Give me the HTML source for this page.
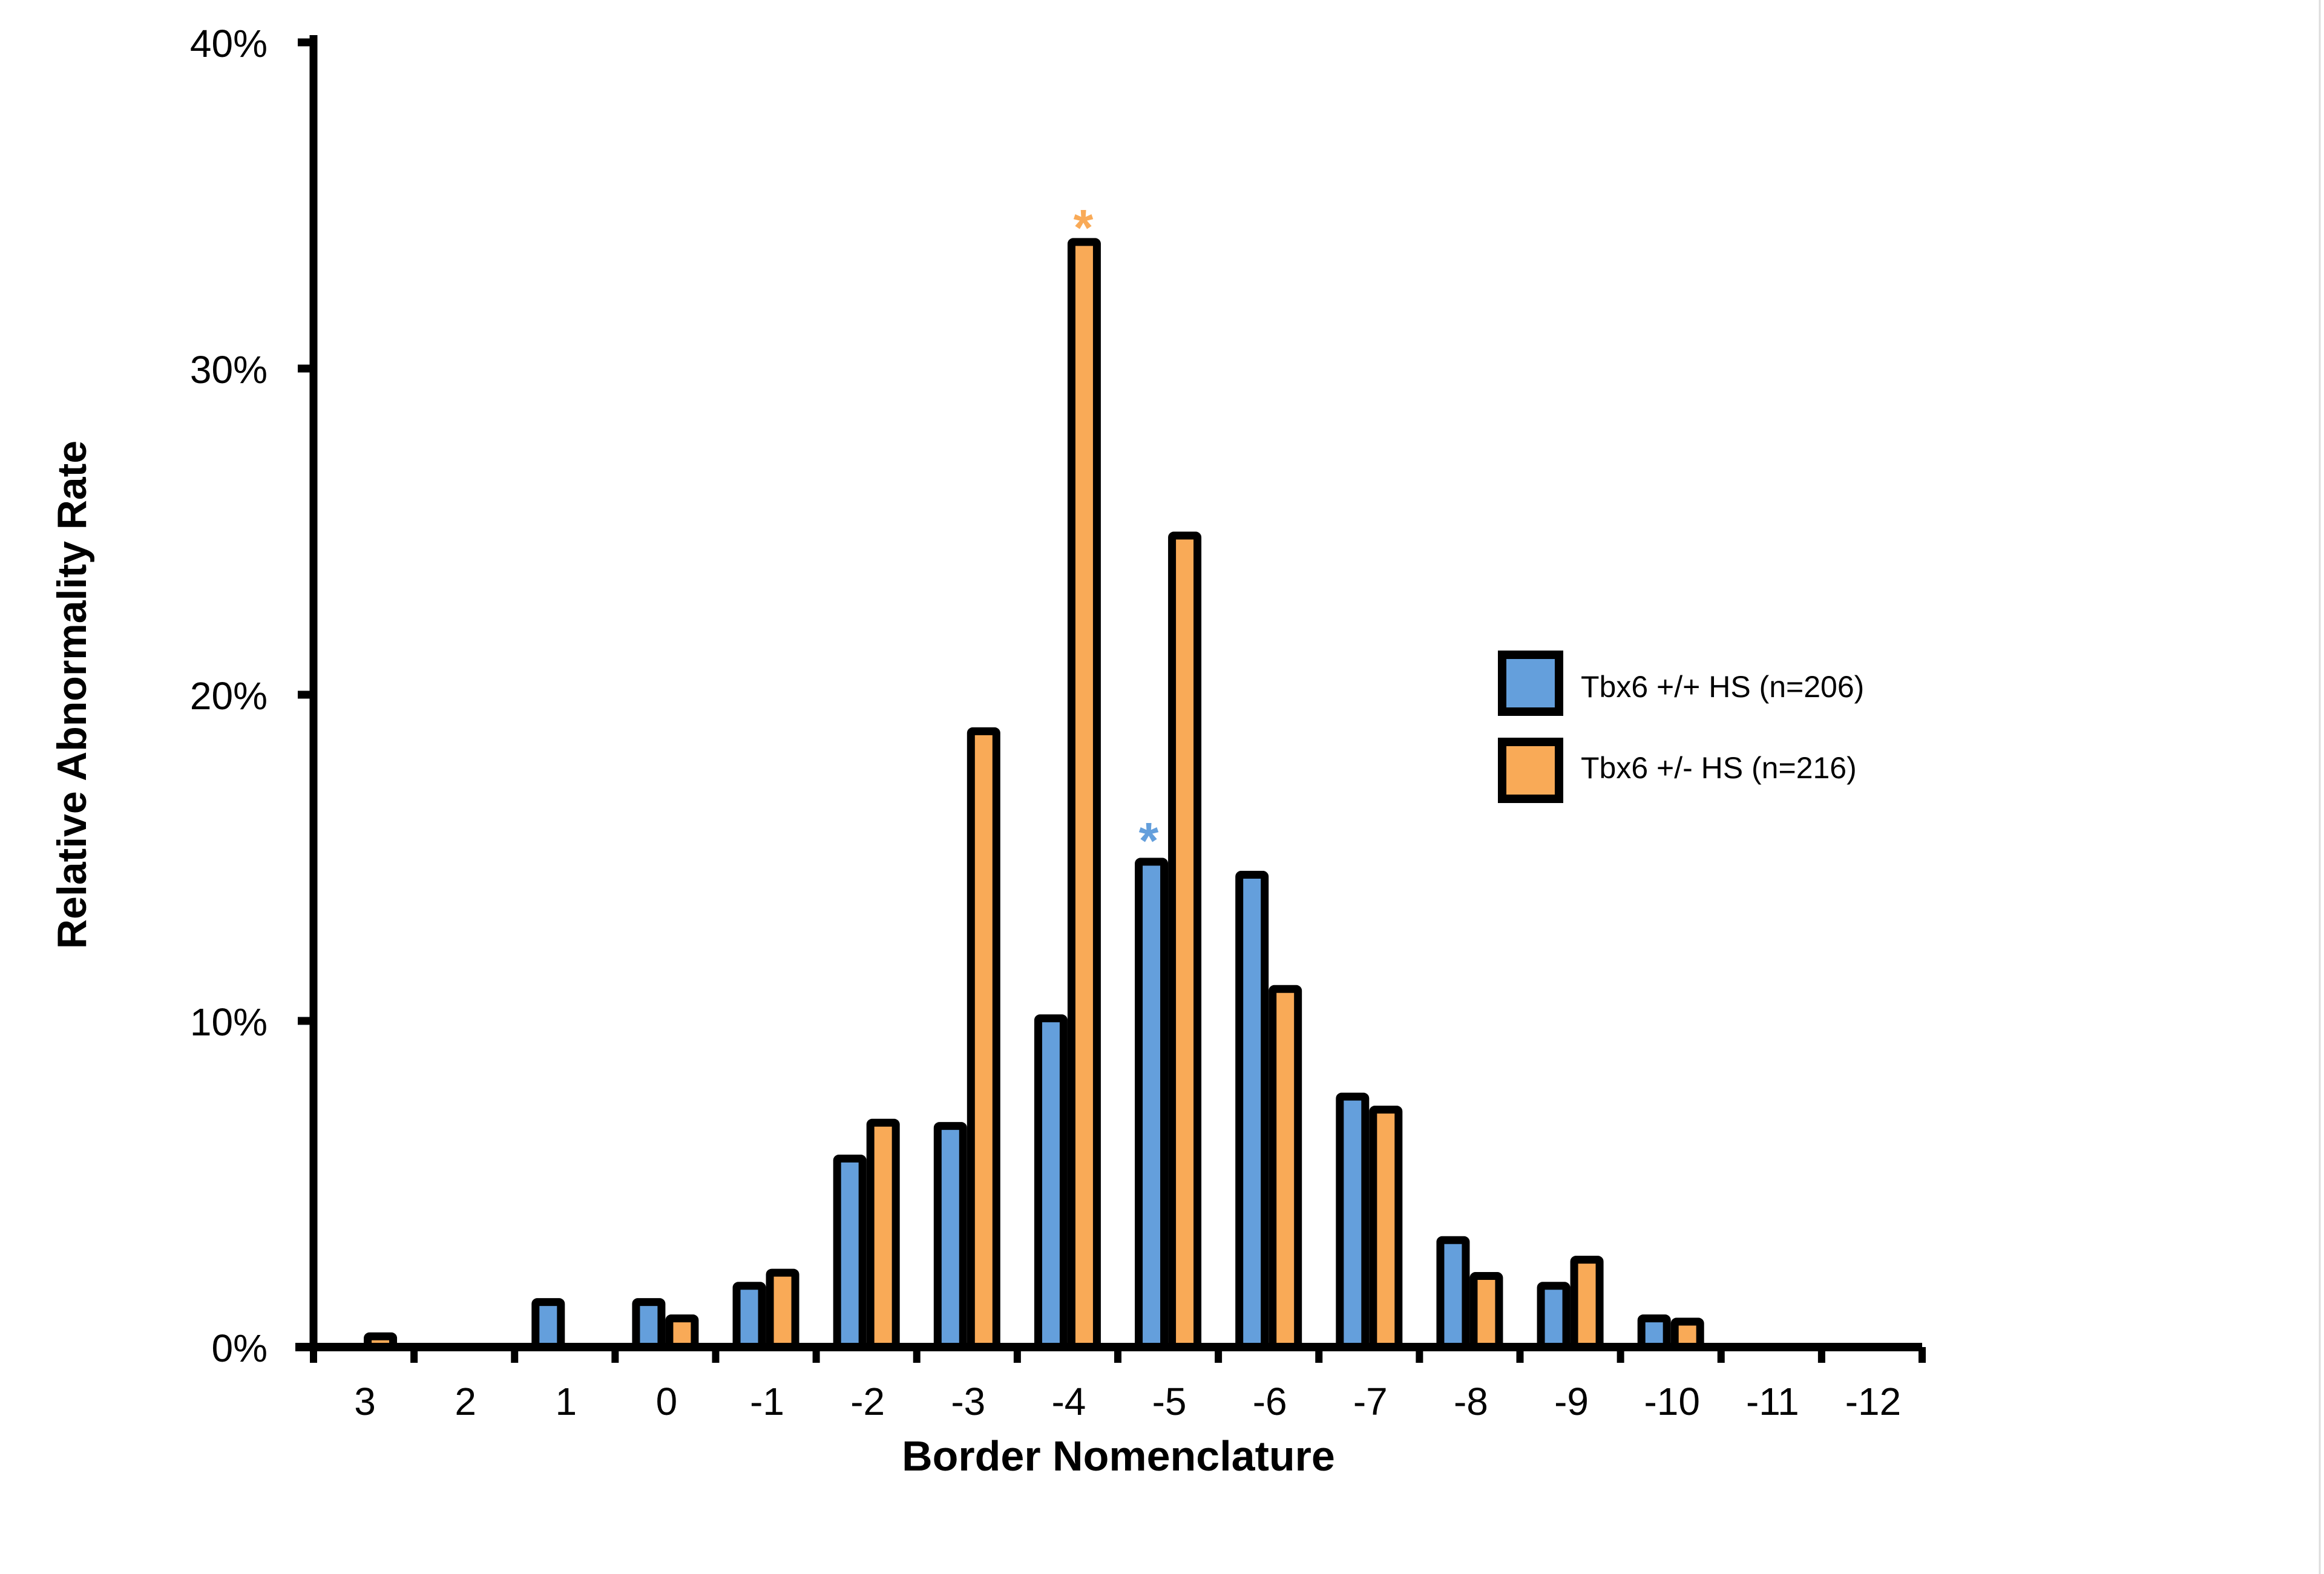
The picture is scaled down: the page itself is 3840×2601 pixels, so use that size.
<!DOCTYPE html>
<html><head><meta charset="utf-8"><style>
html,body{margin:0;padding:0;background:#fff;}
svg{display:block;}
text{font-family:"Liberation Sans",sans-serif;}
</style></head><body>
<svg id="chart" width="3840" height="2601" viewBox="0 0 3840 2601" xmlns="http://www.w3.org/2000/svg">
<rect x="0" y="0" width="3840" height="2601" fill="#fff"/>
<line x1="3833" y1="0" x2="3833" y2="2601" stroke="#ddd" stroke-width="3"/>
<g id="bars"></g>
<g id="axes"></g>
<text transform="translate(142,1148) rotate(-90)" text-anchor="middle" font-size="68" font-weight="bold">Relative Abnormality Rate</text>
<text x="1848" y="2430" text-anchor="middle" font-size="70" font-weight="bold">Border Nomenclature</text>
<g>
<rect x="2482" y="1082" width="94" height="94" fill="#649fdc" stroke="#000" stroke-width="14"/>
<text x="2612" y="1152" font-size="50">Tbx6 +/+ HS (n=206)</text>
<rect x="2482" y="1226" width="94" height="94" fill="#f9aa57" stroke="#000" stroke-width="14"/>
<text x="2612" y="1286" font-size="50">Tbx6 +/- HS (n=216)</text>
</g>
<text x="1790" y="405" text-anchor="middle" font-size="84" font-weight="bold" fill="#f9aa57">*</text>
<text x="1898" y="1418" text-anchor="middle" font-size="84" font-weight="bold" fill="#649fdc">*</text>
</svg>
<script>
const categories = ["3","2","1","0","-1","-2","-3","-4","-5","-6","-7","-8","-9","-10","-11","-12"];
const wildtype = [0,0,1.5,1.5,2.0,5.9,6.9,10.2,15.0,14.6,7.8,3.4,2.0,1.0,0,0];
const heterozygous = [0.45,0,0,1.0,2.4,7.0,19.0,34.0,25.0,11.1,7.4,2.3,2.8,0.9,0,0];
const yTicks = [0,10,20,30,40];
const yTickLabels = ["0%","10%","20%","30%","40%"];

const NS="http://www.w3.org/2000/svg";
const X0=518, X1=3176, Y0=2226, YTOP=70;
const cw=(X1-X0)/categories.length;
function y(v){return Y0-(v/40)*(Y0-YTOP);}
function xc(i){return X0+cw*(i+0.5);}
function mk(tag,attrs,parent){const e=document.createElementNS(NS,tag);for(const k in attrs)e.setAttribute(k,attrs[k]);parent.appendChild(e);return e;}
const bars=document.getElementById('bars'), axes=document.getElementById('axes');
const BW=55, SW=13;
function bar(i,v,isBlue){
  if(v<=0)return;
  const left=isBlue?xc(i)-BW:xc(i);
  const top=y(v)+SW/2;
  const r=mk('rect',{x:left+SW/2,y:top,width:BW-SW,height:Math.max(Y0-top,1),fill:isBlue?'#649fdc':'#f9aa57',stroke:'#000','stroke-width':SW,rx:3},bars);
  
  
}
categories.forEach((c,i)=>{bar(i,wildtype[i],true);bar(i,heterozygous[i],false);});
const ya=mk('line',{x1:X0,y1:YTOP-12,x2:X0,y2:Y0+6,stroke:'#000','stroke-width':13},axes);


const xa=mk('line',{x1:X0-30,y1:Y0,x2:X1,y2:Y0,stroke:'#000','stroke-width':14},axes);


yTicks.forEach((t,k)=>{
  mk('line',{x1:X0-26,y1:y(t),x2:X0,y2:y(t),stroke:'#000','stroke-width':13},axes);
  const tx=mk('text',{x:442,y:y(t)+24,'text-anchor':'end','font-size':64},axes);
  tx.textContent=yTickLabels[k];
  
  
});
for(let i=0;i<=categories.length;i++){
  const xx=X0+cw*i;
  mk('line',{x1:xx,y1:Y0,x2:xx,y2:Y0+26,stroke:'#000','stroke-width':12},axes);
}
categories.forEach((c,i)=>{
  const tx=mk('text',{x:X0+cw*(i+0.5)+2,y:2338,'text-anchor':'middle','font-size':64},axes);
  tx.textContent=c;
  
  
});
</script>
</body></html>
